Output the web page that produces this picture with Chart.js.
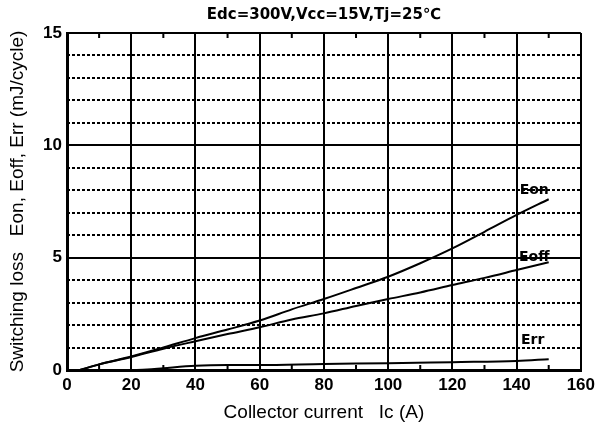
<!DOCTYPE html>
<html>
<head>
<meta charset="utf-8">
<script src="https://cdn.jsdelivr.net/npm/chart.js@4"></script>
<style>
  html, body { margin: 0; padding: 0; background: #fff; }
</style>
</head>
<body>
<canvas id="loss-chart" width="600" height="428"></canvas>
<script>
// values
const current = [4, 10, 20, 30, 40, 50, 60, 70, 80, 90, 100, 110, 120, 130, 140, 150];
const eon = [0, 0.25, 0.6, 1.0, 1.42, 1.8, 2.2, 2.7, 3.16, 3.65, 4.15, 4.75, 5.41, 6.15, 6.9, 7.6];
const eoff = [0, 0.25, 0.58, 0.95, 1.28, 1.6, 1.9, 2.25, 2.52, 2.85, 3.16, 3.45, 3.78, 4.1, 4.45, 4.8];
const errCurrent = [20, 25, 30, 40, 50, 60, 80, 100, 120, 140, 150];
const err = [0, 0.02, 0.08, 0.19, 0.22, 0.22, 0.27, 0.3, 0.35, 0.4, 0.48];
const minorTicks = [10, 30, 50, 70, 90, 110, 130, 150];

const seriesNames = ["Eon", "Eoff", "Err"];
const labelAt = [[145.5, 8.0], [145.5, 5.0], [145, 1.33]];

const FONT = "'Liberation Sans', Arial, sans-serif";
const BOLD = "'DejaVu Sans', sans-serif";

function points(xs, ys) {
  return xs.map((x, i) => ({ x: x, y: ys[i] }));
}

const curveLabels = {
  id: "curveLabels",
  afterDatasetsDraw(chart) {
    const ctx = chart.ctx;
    const xs = chart.scales.x;
    const ys = chart.scales.y;
    const area = chart.chartArea;
    ctx.save();
    // little inward ticks on the top and bottom edges
    ctx.strokeStyle = "#000";
    ctx.lineWidth = 2;
    ctx.beginPath();
    minorTicks.forEach((v) => {
      const px = xs.getPixelForValue(v);
      ctx.moveTo(px, area.top);
      ctx.lineTo(px, area.top + 5);
      ctx.moveTo(px, area.bottom);
      ctx.lineTo(px, area.bottom - 5);
    });
    ctx.stroke();

    ctx.font = "bold 14px " + BOLD;
    ctx.fillStyle = "#000";
    ctx.textAlign = "center";
    ctx.textBaseline = "middle";
    seriesNames.forEach((name, i) => {
      ctx.fillText(name, xs.getPixelForValue(labelAt[i][0]), ys.getPixelForValue(labelAt[i][1]));
    });
    ctx.restore();
  },
};

const lineStyle = {
  borderColor: "#000",
  borderWidth: 2,
  pointRadius: 0,
  fill: false,
  cubicInterpolationMode: "monotone",
};

new Chart(document.getElementById("loss-chart").getContext("2d"), {
  type: "line",
  data: {
    datasets: [
      { label: "Eon", data: points(current, eon), ...lineStyle },
      { label: "Eoff", data: points(current, eoff), ...lineStyle },
      { label: "Err", data: points(errCurrent, err), ...lineStyle },
    ],
  },
  options: {
    responsive: false,
    animation: false,
    devicePixelRatio: 1,
    layout: { padding: { right: 15, left: 0, top: 0, bottom: 0 } },
    plugins: {
      legend: { display: false },
      tooltip: { enabled: false },
      title: {
        display: true,
        fullSize: false,
        text: "Edc=300V,Vcc=15V,Tj=25\u2103",
        color: "#000",
        font: { family: BOLD, size: 15, weight: "bold" },
        padding: { top: 6, bottom: 9 },
      },
    },
    scales: {
      x: {
        type: "linear",
        min: 0,
        max: 160,
        ticks: {
          stepSize: 20,
          color: "#000",
          padding: 5,
          font: { family: FONT, size: 17, weight: "bold" },
        },
        grid: { color: "#000", lineWidth: 2, drawTicks: false },
        border: { color: "#000", width: 3 },
        title: {
          display: true,
          text: "Collector current   Ic (A)",
          color: "#000",
          font: { family: FONT, size: 19 },
          padding: { top: 4 },
        },
        afterFit(scale) { scale.height = 58; },
      },
      y: {
        min: 0,
        max: 15,
        ticks: {
          stepSize: 5,
          color: "#000",
          padding: 5,
          font: { family: FONT, size: 17, weight: "bold" },
        },
        grid: { color: "#000", lineWidth: 2, drawTicks: false },
        border: { color: "#000", width: 3 },
        title: {
          display: true,
          text: "Switching loss   Eon, Eoff, Err (mJ/cycle)",
          color: "#000",
          font: { family: FONT, size: 19 },
          padding: { top: 6, bottom: 4 },
        },
        afterFit(scale) { scale.width = 67; },
      },
      yMinor: {
        position: "left",
        min: 0,
        max: 15,
        ticks: { stepSize: 1, display: false },
        grid: { color: "#000", lineWidth: 2, drawTicks: false },
        border: { display: false, dash: [3, 2] },
        afterFit(scale) { scale.width = 0; },
      },
    },
  },
  plugins: [curveLabels],
});
</script>
</body>
</html>
